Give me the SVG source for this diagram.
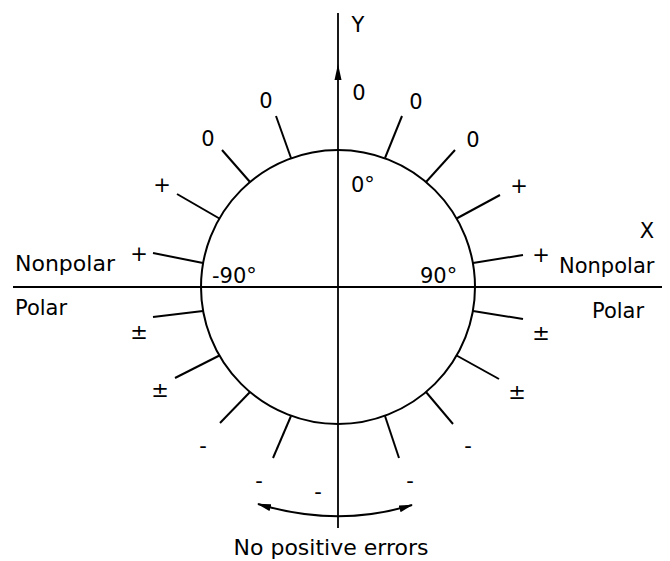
<svg xmlns="http://www.w3.org/2000/svg" width="670" height="561" viewBox="0 0 670 561">
<defs>
<style>
.ln{stroke:#000;stroke-width:2;fill:none;stroke-linecap:butt}
.ax{stroke:#000;stroke-width:1.8;fill:none}
text{font-family:"DejaVu Sans","Liberation Sans",sans-serif;font-size:21px;fill:#000}
.m{text-anchor:middle}
</style>
<marker id="ah" viewBox="0 0 14 8" refX="13" refY="4" markerWidth="14" markerHeight="8" markerUnits="userSpaceOnUse" orient="auto-start-reverse">
<path d="M0,0.5 L14,4 L0,7.5 Z" fill="#000"/>
</marker>
</defs>
<rect width="670" height="561" fill="#fff"/>
<g id="axes">
<line class="ax" x1="13" y1="287" x2="662" y2="287"/>
<line class="ax" x1="338" y1="13" x2="338" y2="528"/>
<path d="M338,64 L334.5,80 L341.5,80 Z" fill="#000"/>
</g>
<g id="circle">
<circle class="ln" cx="338" cy="287" r="137"/>
</g>
<g id="connectors">
<line class="ln" x1="291" y1="158" x2="276" y2="116"/>
<line class="ln" x1="250" y1="182" x2="222" y2="150"/>
<line class="ln" x1="219.4" y1="218.5" x2="177" y2="194"/>
<line class="ln" x1="203" y1="263" x2="153" y2="253"/>
<line class="ln" x1="203" y1="311" x2="153" y2="317"/>
<line class="ln" x1="219.4" y1="355.5" x2="175" y2="378"/>
<line class="ln" x1="250" y1="392" x2="220" y2="423"/>
<line class="ln" x1="291" y1="416" x2="273" y2="458"/>
<line class="ln" x1="385" y1="158" x2="402" y2="116"/>
<line class="ln" x1="426" y1="182" x2="455" y2="150"/>
<line class="ln" x1="456.6" y1="218.5" x2="500" y2="195"/>
<line class="ln" x1="473" y1="263" x2="523" y2="255"/>
<line class="ln" x1="473" y1="311" x2="523" y2="319"/>
<line class="ln" x1="456.6" y1="355.5" x2="499" y2="379"/>
<line class="ln" x1="426" y1="392" x2="453" y2="424"/>
<line class="ln" x1="385" y1="416" x2="399" y2="458"/>
<path class="ln" d="M258,504 Q338,528 412,505" marker-start="url(#ah)" marker-end="url(#ah)"/>
</g>
<g id="axis-labels">
<text class="m" x="358" y="32">Y</text>
<text class="m" x="647" y="238">X</text>
<text x="15" y="271" style="font-size:22px">Nonpolar</text>
<text x="559" y="273">Nonpolar</text>
<text x="15" y="315">Polar</text>
<text x="592" y="318">Polar</text>
<text x="351" y="192">0°</text>
<text x="212" y="283">-90°</text>
<text x="420" y="283">90°</text>
<text class="m" x="331" y="555" style="font-size:22px">No positive errors</text>
</g>
<g id="tick-labels">
<text class="m" x="359" y="100">0</text>
<text class="m" x="266" y="108">0</text>
<text class="m" x="208" y="146">0</text>
<text class="m" x="416" y="109">0</text>
<text class="m" x="473" y="147">0</text>
<text class="m" x="162" y="192">+</text>
<text class="m" x="519" y="193">+</text>
<text class="m" x="139" y="261">+</text>
<text class="m" x="541" y="262">+</text>
<text class="m" x="139" y="339">±</text>
<text class="m" x="541" y="340">±</text>
<text class="m" x="160" y="397">±</text>
<text class="m" x="517" y="399">±</text>
<text class="m" x="203" y="453">-</text>
<text class="m" x="468" y="453">-</text>
<text class="m" x="259" y="488">-</text>
<text class="m" x="410" y="488">-</text>
<text class="m" x="318" y="499">-</text>
</g>
</svg>
